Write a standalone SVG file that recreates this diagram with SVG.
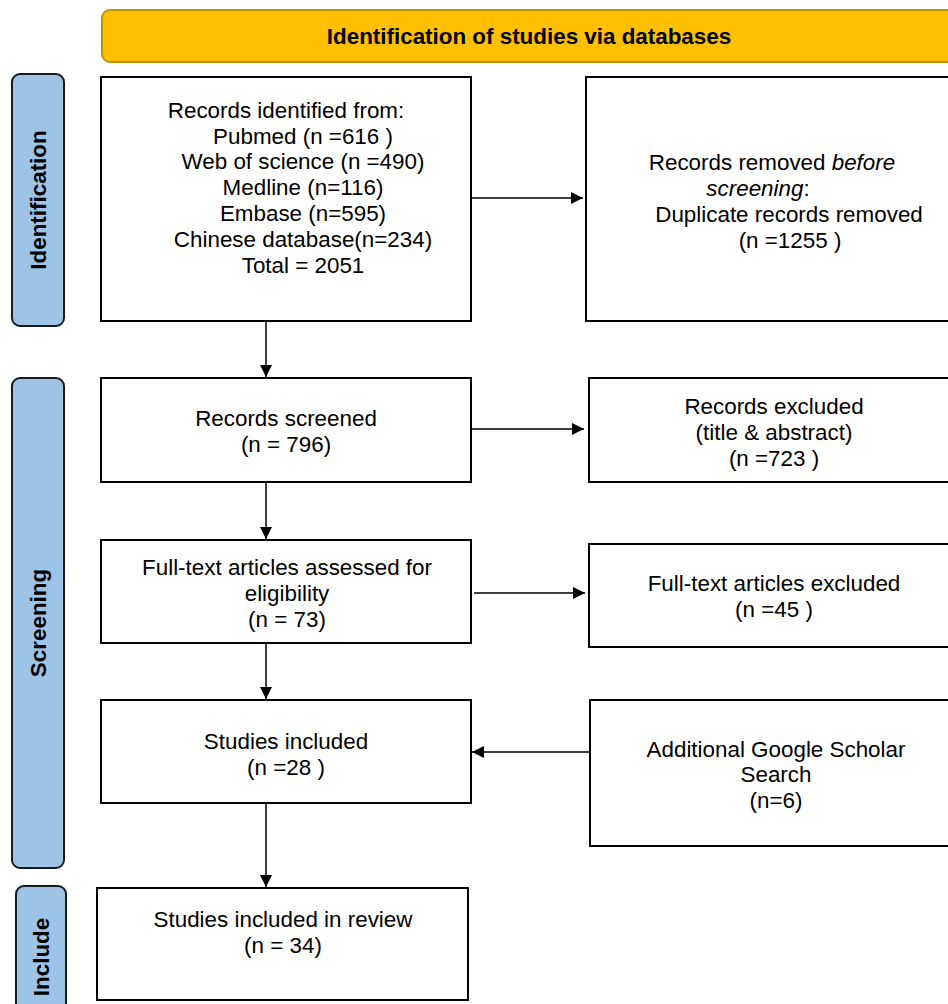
<svg xmlns="http://www.w3.org/2000/svg" width="948" height="1004" viewBox="0 0 948 1004">
<defs>
<style>
.box{fill:#fff;stroke:#000;stroke-width:2}
.side{fill:#9DC3E6;stroke:#1a1a1a;stroke-width:2}
.t{font-family:"Liberation Sans",Arial,sans-serif;font-size:22.4px;fill:#000;text-anchor:middle}
.sb{font-family:"Liberation Sans",Arial,sans-serif;font-size:22.4px;font-weight:bold;fill:#000;text-anchor:middle}
.c{stroke:#000;stroke-width:1.5;fill:none}
</style>
<marker id="ah" markerWidth="12" markerHeight="12" refX="12" refY="6" orient="auto" markerUnits="userSpaceOnUse">
<path d="M0,0 L12,6 L0,12 Z" fill="#000"/>
</marker>
</defs>
<rect width="948" height="1004" fill="#fff"/>

<g id="header">
<rect x="102" y="10" width="860" height="52" rx="8" fill="#FFC000" stroke="#BF9000" stroke-width="2"/>
<text class="sb" x="529" y="44">Identification of studies via databases</text>
</g>

<g id="side-identification">
<rect class="side" x="12" y="74" width="52" height="252" rx="8"/>
<text class="sb" transform="translate(46,200) rotate(-90)">Identification</text>
</g>
<g id="side-screening">
<rect class="side" x="12" y="378" width="52" height="490" rx="8"/>
<text class="sb" transform="translate(46,623) rotate(-90)">Screening</text>
</g>
<g id="side-include">
<rect class="side" x="16" y="886" width="50" height="140" rx="8"/>
<text class="sb" transform="translate(49,957) rotate(-90)">Include</text>
</g>

<g id="connectors">
<line class="c" x1="471" y1="198" x2="583" y2="198" marker-end="url(#ah)"/>
<line class="c" x1="266" y1="321" x2="266" y2="377" marker-end="url(#ah)"/>
<line class="c" x1="471" y1="429" x2="584" y2="429" marker-end="url(#ah)"/>
<line class="c" x1="266" y1="482" x2="266" y2="539" marker-end="url(#ah)"/>
<line class="c" x1="474" y1="593" x2="585" y2="593" marker-end="url(#ah)"/>
<line class="c" x1="266" y1="643" x2="266" y2="699" marker-end="url(#ah)"/>
<line class="c" x1="590" y1="752" x2="472" y2="752" marker-end="url(#ah)"/>
<line class="c" x1="266" y1="803" x2="266" y2="887" marker-end="url(#ah)"/>
</g>

<g id="records-identified">
<rect class="box" x="101" y="77" width="370" height="244"/>
<text class="t" x="286" y="118">Records identified from:</text>
<text class="t" x="303" y="144">Pubmed (n =616 )</text>
<text class="t" x="303" y="169">Web of science (n =490)</text>
<text class="t" x="303" y="195">Medline (n=116)</text>
<text class="t" x="303" y="221">Embase (n=595)</text>
<text class="t" x="303" y="247">Chinese database(n=234)</text>
<text class="t" x="303" y="273">Total = 2051</text>
</g>

<g id="records-removed">
<rect class="box" x="586" y="77" width="380" height="244"/>
<text class="t" x="772" y="170">Records removed <tspan font-style="italic">before</tspan></text>
<text class="t" x="758" y="196"><tspan font-style="italic">screening</tspan>:</text>
<text class="t" x="789" y="222">Duplicate records removed</text>
<text class="t" x="790" y="248">(n =1255 )</text>
</g>

<g id="records-screened">
<rect class="box" x="101" y="378" width="370" height="104"/>
<text class="t" x="286" y="426">Records screened</text>
<text class="t" x="286" y="452">(n = 796)</text>
</g>

<g id="records-excluded">
<rect class="box" x="589" y="378" width="380" height="104"/>
<text class="t" x="774" y="414">Records excluded</text>
<text class="t" x="774" y="440">(title &amp; abstract)</text>
<text class="t" x="774" y="466">(n =723 )</text>
</g>

<g id="fulltext-assessed">
<rect class="box" x="101" y="540" width="370" height="103"/>
<text class="t" x="287" y="575">Full-text articles assessed for</text>
<text class="t" x="287" y="601">eligibility</text>
<text class="t" x="287" y="627">(n = 73)</text>
</g>

<g id="fulltext-excluded">
<rect class="box" x="589" y="544" width="380" height="103"/>
<text class="t" x="774" y="591">Full-text articles excluded</text>
<text class="t" x="774" y="617">(n =45 )</text>
</g>

<g id="studies-included">
<rect class="box" x="101" y="700" width="370" height="103"/>
<text class="t" x="286" y="749">Studies included</text>
<text class="t" x="286" y="775">(n =28 )</text>
</g>

<g id="google-scholar">
<rect class="box" x="590" y="700" width="380" height="146"/>
<text class="t" x="776" y="757">Additional Google Scholar</text>
<text class="t" x="776" y="782">Search</text>
<text class="t" x="776" y="808">(n=6)</text>
</g>

<g id="review">
<rect class="box" x="97" y="888" width="371" height="112"/>
<text class="t" x="283" y="927">Studies included in review</text>
<text class="t" x="283" y="953">(n = 34)</text>
</g>
</svg>
